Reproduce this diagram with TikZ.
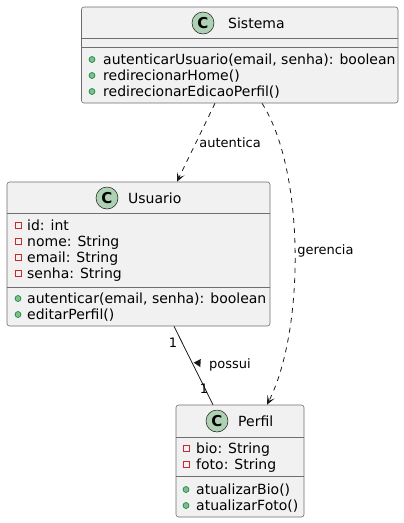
\documentclass[tikz,border=0pt]{standalone}
\usepackage{fontspec}
\setmainfont{DejaVu Sans}
\usepackage{tikz}
\usetikzlibrary{arrows.meta}

\definecolor{boxfill}{HTML}{F1F1F1}
\definecolor{boxline}{HTML}{181818}
\definecolor{boxedge}{HTML}{6E6E6E}
\definecolor{spotfill}{HTML}{ADD1B2}
\definecolor{privred}{HTML}{C82930}
\definecolor{pubfill}{HTML}{84BE84}
\definecolor{publine}{HTML}{038048}

\tikzset{
  classbox/.style={rectangle, draw=boxedge, fill=boxfill, line width=0.6pt, rounded corners=2.5pt, inner sep=0pt},
  sepline/.style={draw=boxedge, line width=0.6pt},
  spot/.style={circle, draw=boxline, fill=spotfill, line width=0.5pt, minimum size=22pt, inner sep=0pt, font=\fontsize{15}{15}\selectfont\bfseries},
  title/.style={anchor=base west, inner sep=0pt, font=\fontsize{14}{16}\selectfont},
  member/.style={anchor=base west, inner sep=0pt, font=\fontsize{14}{16}\selectfont},
  privicon/.style={rectangle, draw=privred, line width=0.8pt, minimum size=6pt, inner sep=0pt},
  pubicon/.style={circle, draw=publine, fill=pubfill, line width=0.6pt, minimum size=6pt, inner sep=0pt},
  dep/.style={draw=boxline, line width=0.8pt, dash pattern=on 5pt off 5pt, -{Stealth[length=9pt,width=8pt,inset=4.5pt]}},
  assoc/.style={draw=boxline, line width=0.8pt},
  edgelabel/.style={inner sep=0pt, font=\fontsize{13}{15}\selectfont},
}

\begin{document}
\begin{tikzpicture}[x=1pt,y=-1pt]

\useasboundingbox (0,0) rectangle (404,523);

% class Sistema
\node[classbox, minimum width=316.5pt, minimum height=96pt] (sistema) at (239.75,55) {};
\draw[sepline] (sistema.west |- 0,38) -- (sistema.east |- 0,38);
\draw[sepline] (sistema.west |- 0,47) -- (sistema.east |- 0,47);
\node[spot] (sistema-spot) at (203,23) {C};
\node[title] (sistema-name) at (228,28) {Sistema};
\node[pubicon] (sistema-i1) at (92,59.5) {};
\node[pubicon] (sistema-i2) at (92,75.5) {};
\node[pubicon] (sistema-i3) at (92,91.5) {};
\node[member] (sistema-m1) at (103,64) {autenticarUsuario(email, senha): boolean};
\node[member] (sistema-m2) at (103,80) {redirecionarHome()};
\node[member] (sistema-m3) at (103,96) {redirecionarEdicaoPerfil()};

% class Usuario
\node[classbox, minimum width=263pt, minimum height=144pt] (usuario) at (138.5,254) {};
\draw[sepline] (usuario.west |- 0,213) -- (usuario.east |- 0,213);
\draw[sepline] (usuario.west |- 0,287) -- (usuario.east |- 0,287);
\node[spot] (usuario-spot) at (107,198) {C};
\node[title] (usuario-name) at (128,203) {Usuario};
\node[privicon] (usuario-i1) at (18,225.5) {};
\node[privicon] (usuario-i2) at (18,241.5) {};
\node[privicon] (usuario-i3) at (18,257.5) {};
\node[privicon] (usuario-i4) at (18,273.5) {};
\node[member] (usuario-a1) at (27,230) {id: int};
\node[member] (usuario-a2) at (27,246) {nome: String};
\node[member] (usuario-a3) at (27,262) {email: String};
\node[member] (usuario-a4) at (27,278) {senha: String};
\node[pubicon] (usuario-i5) at (18,298.5) {};
\node[pubicon] (usuario-i6) at (18,314.5) {};
\node[member] (usuario-m1) at (27,303) {autenticar(email, senha): boolean};
\node[member] (usuario-m2) at (27,319) {editarPerfil()};

% class Perfil
\node[classbox, minimum width=128pt, minimum height=112pt] (perfil) at (240,461) {};
\draw[sepline] (perfil.west |- 0,437) -- (perfil.east |- 0,437);
\draw[sepline] (perfil.west |- 0,476) -- (perfil.east |- 0,476);
\node[spot] (perfil-spot) at (217,421) {C};
\node[title] (perfil-name) at (238,426) {Perfil};
\node[privicon] (perfil-i1) at (186,448.5) {};
\node[privicon] (perfil-i2) at (186,464.5) {};
\node[member] (perfil-a1) at (196,453) {bio: String};
\node[member] (perfil-a2) at (196,469) {foto: String};
\node[pubicon] (perfil-i3) at (186,489.5) {};
\node[pubicon] (perfil-i4) at (186,505.5) {};
\node[member] (perfil-m1) at (196,494) {atualizarBio()};
\node[member] (perfil-m2) at (196,510) {atualizarFoto()};

% relations
\draw[dep] (sistema.south -| 215,0) -- node[edgelabel, anchor=west, xshift=3pt] (lbl-autentica) {autentica} (usuario.north -| 177,0);
\draw[dep] (sistema.south -| 262,0) .. controls (305,170) and (305,330) .. node[edgelabel, anchor=west, xshift=2pt] (lbl-gerencia) {gerencia} (perfil.north -| 267,0);
\draw[assoc] (usuario.south -| 174,0) -- (perfil.north -| 213,0);
\node[edgelabel] (mult-usuario) at (173,343) {1};
\node[edgelabel] (mult-perfil) at (204,389) {1};
\node[edgelabel, anchor=west] (lbl-possui) at (209,365) {possui};
\fill[boxline] (200.3,367.1) -- (200.8,359.0) -- (193.6,362.6) -- cycle;

\end{tikzpicture}
\end{document}
